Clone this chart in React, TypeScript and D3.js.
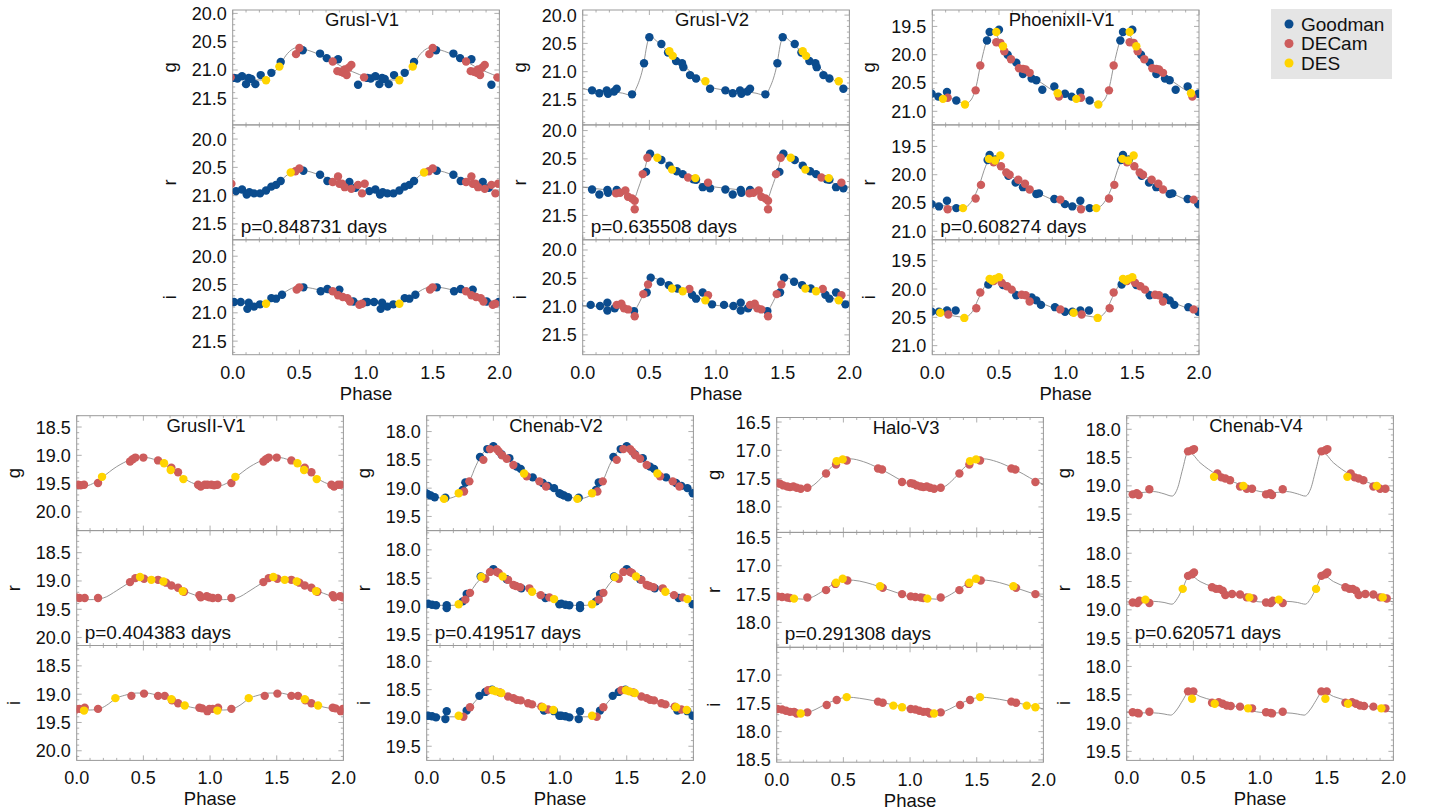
import React from 'react';
import * as d3 from 'd3';

// [phase, mag, survey]  survey: 0 Goodman, 1 DECam, 2 DES
type Pt = [number, number, number];
type Knot = [number, number];

const surveys = ['Goodman', 'DECam', 'DES'];
const surveyColors = ['#0b4c8e', '#cd5c5c', '#ffd400'];
const bands = ['g', 'r', 'i'];

const starNames = ['GrusI-V1', 'GrusI-V2', 'PhoenixII-V1', 'GrusII-V1', 'Chenab-V2', 'Halo-V3', 'Chenab-V4'];
const periods = ['0.848731', '0.635508', '0.608274', '0.404383', '0.419517', '0.291308', '0.620571'];
// magnitude at the top edge of each g / r / i box
const yTops = [
  [19.94, 19.75, 19.71], [19.91, 19.9, 19.82], [19.21, 19.12, 19.13],
  [18.3, 18.11, 18.14], [17.72, 17.66, 17.72], [16.42, 16.41, 16.51], [17.76, 17.6, 17.63],
];
const phaseTicks = [0, 0.5, 1, 1.5, 2];

// ---- GrusI-V1
const grus1v1G: Pt[] = [[0.01,21.14,0],[0.035,21.15,0],[0.07,21.11,0],[0.10,21.25,0],[0.12,21.14,0],[0.14,21.16,0],[0.17,21.25,0],[0.21,21.09,0],[0.25,21.18,2],[0.29,21.05,0],[0.35,20.94,2],[0.36,20.86,0],[0.475,20.72,1],[0.50,20.61,1],[0.525,20.65,0],[0.655,20.71,0],[0.705,20.79,0],[0.75,20.85,1],[0.79,20.81,0],[0.785,21.02,1],[0.81,21.03,1],[0.83,21.05,1],[0.84,20.99,1],[0.855,21.09,1],[0.87,20.96,1],[0.89,20.91,1],[0.94,21.26,0],[0.985,21.13,1]];
const grus1v1R: Pt[] = [[0.99,20.79,1],[0.025,20.92,0],[0.07,20.89,0],[0.105,20.98,0],[0.125,20.94,0],[0.16,20.96,0],[0.205,20.96,0],[0.25,20.91,0],[0.29,20.84,0],[0.325,20.81,0],[0.36,20.74,0],[0.435,20.59,2],[0.47,20.57,1],[0.50,20.52,1],[0.53,20.56,0],[0.655,20.63,0],[0.71,20.74,0],[0.75,20.76,1],[0.79,20.66,1],[0.80,20.79,1],[0.82,20.79,1],[0.84,20.85,1],[0.875,20.76,0],[0.89,20.88,1],[0.92,20.86,0],[0.94,20.81,1],[0.97,20.96,1]];
const grus1v1I: Pt[] = [[0.01,20.81,0],[0.06,20.81,0],[0.11,20.93,0],[0.12,20.82,0],[0.16,20.89,0],[0.205,20.85,0],[0.25,20.84,2],[0.29,20.74,0],[0.325,20.75,0],[0.37,20.68,0],[0.48,20.59,1],[0.5,20.55,1],[0.53,20.55,0],[0.66,20.62,0],[0.71,20.58,0],[0.75,20.62,1],[0.8,20.59,0],[0.79,20.69,1],[0.825,20.72,1],[0.86,20.74,1],[0.88,20.8,1],[0.905,20.8,0],[0.95,20.86,1],[0.97,20.84,1],[0.995,20.81,0]];
const grus1v1GFit: Knot[] = [[0,21.13],[0.1,21.16],[0.24,21.18],[0.3,21.06],[0.35,20.93],[0.4,20.74],[0.45,20.63],[0.49,20.6],[0.55,20.64],[0.7,20.78],[0.85,20.98],[0.95,21.08]];
const grus1v1RFit: Knot[] = [[0,20.93],[0.1,20.95],[0.2,20.96],[0.27,20.9],[0.33,20.8],[0.4,20.65],[0.45,20.57],[0.5,20.54],[0.55,20.56],[0.7,20.68],[0.85,20.82],[0.95,20.9]];
const grus1v1IFit: Knot[] = [[0,20.81],[0.12,20.84],[0.24,20.85],[0.3,20.78],[0.37,20.67],[0.44,20.57],[0.5,20.54],[0.6,20.57],[0.75,20.67],[0.9,20.77]];

// ---- GrusI-V2
const grus1v2G: Pt[] = [[0.07,21.33,0],[0.125,21.38,0],[0.18,21.33,0],[0.19,21.39,0],[0.235,21.35,0],[0.255,21.3,0],[0.37,21.4,0],[0.46,20.85,0],[0.5,20.39,0],[0.59,20.51,0],[0.64,20.66,0],[0.65,20.64,2],[0.675,20.72,2],[0.7,20.81,0],[0.745,20.85,0],[0.755,20.92,0],[0.805,21.06,0],[0.85,21.12,0],[0.92,21.17,2],[0.955,21.3,0]];
const grus1v2R: Pt[] = [[0.07,21.04,0],[0.125,21.13,0],[0.185,21.05,0],[0.19,21.1,0],[0.25,21.11,1],[0.255,21.05,0],[0.28,21.1,1],[0.32,21.06,1],[0.34,21.17,1],[0.37,21.2,1],[0.39,21.24,1],[0.39,21.39,1],[0.45,20.77,1],[0.475,20.73,0],[0.485,20.48,1],[0.505,20.41,0],[0.56,20.48,2],[0.59,20.52,0],[0.65,20.62,0],[0.67,20.69,2],[0.705,20.72,0],[0.75,20.77,0],[0.79,20.83,1],[0.83,20.86,0],[0.845,20.84,2],[0.85,20.87,0],[0.9,21.0,0],[0.94,20.92,1],[0.955,21.02,0]];
const grus1v2I: Pt[] = [[0.06,20.97,0],[0.13,20.99,0],[0.185,20.93,0],[0.185,21.07,0],[0.24,21.03,0],[0.255,20.97,1],[0.29,20.95,1],[0.31,21.03,1],[0.34,21.05,1],[0.385,21.08,0],[0.39,21.17,1],[0.455,20.78,1],[0.48,20.75,0],[0.49,20.61,1],[0.51,20.49,0],[0.585,20.56,0],[0.645,20.62,0],[0.67,20.68,2],[0.71,20.68,0],[0.75,20.73,2],[0.8,20.69,1],[0.82,20.79,0],[0.85,20.86,0],[0.9,20.75,0],[0.92,20.89,2],[0.94,20.8,1],[0.97,20.96,0]];
const grus1v2GFit: Knot[] = [[0,21.3],[0.15,21.34],[0.3,21.38],[0.37,21.42],[0.4,21.3],[0.45,20.95],[0.49,20.45],[0.51,20.38],[0.55,20.45],[0.65,20.67],[0.75,20.88],[0.85,21.08],[0.95,21.26]];
const grus1v2RFit: Knot[] = [[0,21.0],[0.15,21.04],[0.3,21.12],[0.38,21.22],[0.42,21.0],[0.46,20.72],[0.5,20.43],[0.52,20.42],[0.6,20.52],[0.7,20.69],[0.8,20.82],[0.9,20.95]];
const grus1v2IFit: Knot[] = [[0,20.98],[0.15,21.0],[0.3,21.04],[0.38,21.09],[0.42,20.95],[0.46,20.75],[0.5,20.52],[0.52,20.49],[0.6,20.56],[0.7,20.66],[0.8,20.76],[0.9,20.88],[0.95,20.94]];

// ---- PhoenixII-V1
const phx2v1G: Pt[] = [[0.995,20.69,0],[0.045,20.74,0],[0.08,20.78,2],[0.11,20.66,0],[0.115,20.76,1],[0.18,20.81,0],[0.245,20.88,2],[0.325,20.63,1],[0.36,20.19,1],[0.41,19.75,0],[0.43,19.6,0],[0.48,19.6,2],[0.5,19.56,0],[0.48,19.78,1],[0.51,19.79,1],[0.53,19.85,2],[0.54,19.94,1],[0.565,20.0,0],[0.59,20.08,1],[0.63,20.14,0],[0.65,20.24,1],[0.68,20.34,0],[0.68,20.25,1],[0.7,20.26,1],[0.73,20.32,1],[0.745,20.42,0],[0.78,20.45,0],[0.825,20.62,0],[0.915,20.56,0],[0.94,20.68,2],[0.95,20.74,1]];
const phx2v1R: Pt[] = [[0.995,20.52,0],[0.05,20.56,0],[0.11,20.46,0],[0.115,20.61,1],[0.18,20.59,0],[0.23,20.59,2],[0.325,20.42,1],[0.365,20.18,1],[0.415,19.74,0],[0.43,19.65,0],[0.425,19.72,2],[0.46,19.78,1],[0.47,19.75,2],[0.475,19.73,0],[0.51,19.66,2],[0.515,19.85,1],[0.555,19.96,1],[0.57,20.02,0],[0.58,20.0,1],[0.625,20.14,0],[0.645,20.09,1],[0.68,20.22,0],[0.695,20.16,1],[0.73,20.26,1],[0.78,20.34,0],[0.8,20.33,0],[0.915,20.43,0],[0.96,20.44,1]];
const phx2v1I: Pt[] = [[0.995,20.4,0],[0.05,20.4,0],[0.06,20.42,2],[0.11,20.38,0],[0.12,20.45,1],[0.175,20.38,0],[0.24,20.51,2],[0.33,20.34,1],[0.36,20.06,1],[0.42,19.92,0],[0.43,19.82,2],[0.45,19.85,2],[0.47,19.82,2],[0.5,19.79,2],[0.46,19.86,1],[0.52,19.89,1],[0.53,19.93,0],[0.56,19.95,1],[0.595,20.01,1],[0.63,20.11,0],[0.67,20.1,1],[0.7,20.11,1],[0.73,20.22,1],[0.745,20.15,0],[0.78,20.2,0],[0.815,20.28,0],[0.92,20.32,0],[0.96,20.36,1]];
const phx2v1GFit: Knot[] = [[0,20.71],[0.1,20.76],[0.17,20.79],[0.245,20.87],[0.29,20.8],[0.33,20.55],[0.36,20.2],[0.41,19.74],[0.445,19.59],[0.47,19.62],[0.52,19.82],[0.595,20.09],[0.67,20.26],[0.82,20.5],[0.92,20.65]];
const phx2v1RFit: Knot[] = [[0,20.53],[0.1,20.55],[0.2,20.58],[0.25,20.57],[0.3,20.45],[0.35,20.2],[0.4,19.85],[0.435,19.7],[0.46,19.72],[0.52,19.85],[0.6,20.03],[0.7,20.2],[0.8,20.33],[0.9,20.44],[0.95,20.49]];
const phx2v1IFit: Knot[] = [[0,20.41],[0.1,20.45],[0.2,20.49],[0.24,20.5],[0.3,20.4],[0.35,20.15],[0.4,19.93],[0.44,19.83],[0.48,19.84],[0.55,19.93],[0.65,20.06],[0.75,20.18],[0.85,20.28],[0.95,20.37]];

// ---- GrusII-V1
const grus2v1G: Pt[] = [[0.01,19.52,1],[0.03,19.53,1],[0.055,19.52,1],[0.16,19.49,1],[0.19,19.38,2],[0.4,19.11,1],[0.42,19.07,1],[0.44,19.04,1],[0.5,19.04,1],[0.61,19.09,1],[0.655,19.14,2],[0.705,19.26,2],[0.71,19.22,1],[0.76,19.3,1],[0.8,19.42,2],[0.91,19.52,1],[0.93,19.55,1],[0.96,19.52,1],[0.98,19.52,1]];
const grus2v1R: Pt[] = [[0.02,19.3,1],[0.06,19.3,1],[0.16,19.3,1],[0.4,19.02,1],[0.44,18.95,1],[0.475,18.93,2],[0.505,18.96,1],[0.56,18.98,2],[0.61,18.98,1],[0.65,19.01,2],[0.67,19.03,1],[0.71,19.08,1],[0.76,19.12,1],[0.795,19.18,2],[0.805,19.19,1],[0.92,19.25,1],[0.93,19.29,1],[0.975,19.27,1],[0.995,19.29,1]];
const grus2v1I: Pt[] = [[0.02,19.26,1],[0.06,19.24,1],[0.055,19.29,2],[0.16,19.26,1],[0.29,19.07,2],[0.41,19.03,1],[0.505,18.99,1],[0.61,19.03,1],[0.66,19.03,1],[0.715,19.11,1],[0.71,19.09,2],[0.76,19.16,1],[0.81,19.2,2],[0.92,19.24,1],[0.94,19.25,1],[0.98,19.3,1],[0.995,19.26,1]];
const grus2v1GFit: Knot[] = [[0,19.54],[0.05,19.55],[0.12,19.5],[0.19,19.39],[0.3,19.2],[0.4,19.08],[0.48,19.03],[0.55,19.05],[0.65,19.15],[0.72,19.25],[0.8,19.4],[0.88,19.5],[0.95,19.54]];
const grus2v1RFit: Knot[] = [[0,19.32],[0.1,19.33],[0.2,19.3],[0.3,19.17],[0.38,19.05],[0.45,18.96],[0.5,18.94],[0.6,18.98],[0.7,19.06],[0.8,19.17],[0.9,19.26],[0.95,19.3]];
const grus2v1IFit: Knot[] = [[0,19.27],[0.1,19.28],[0.18,19.25],[0.24,19.17],[0.29,19.08],[0.36,19.02],[0.45,18.98],[0.52,18.98],[0.62,19.03],[0.72,19.1],[0.81,19.2],[0.9,19.25]];

// ---- Chenab-V2
const chen2G: Pt[] = [[0.01,19.11,0],[0.03,19.13,0],[0.06,19.16,0],[0.14,19.17,0],[0.13,19.19,2],[0.24,19.09,2],[0.27,19.03,0],[0.28,19.06,1],[0.29,18.9,0],[0.32,18.88,1],[0.4,18.45,0],[0.425,18.5,1],[0.455,18.31,0],[0.475,18.31,1],[0.5,18.26,0],[0.525,18.31,1],[0.54,18.35,1],[0.56,18.4,0],[0.565,18.42,1],[0.6,18.48,1],[0.62,18.47,0],[0.65,18.59,1],[0.675,18.62,0],[0.705,18.66,0],[0.73,18.74,2],[0.75,18.79,1],[0.795,18.81,0],[0.845,18.88,1],[0.87,18.91,0],[0.895,18.97,1],[0.91,18.96,0],[0.955,19.0,0],[0.995,19.09,0]];
const chen2R: Pt[] = [[0.01,18.95,0],[0.04,18.97,0],[0.07,18.98,0],[0.15,18.98,0],[0.15,19.03,0],[0.24,18.96,2],[0.27,18.91,0],[0.29,18.88,1],[0.3,18.78,0],[0.325,18.76,1],[0.405,18.47,0],[0.41,18.48,2],[0.44,18.51,1],[0.475,18.39,1],[0.5,18.34,0],[0.525,18.39,1],[0.54,18.41,1],[0.57,18.47,2],[0.6,18.52,0],[0.61,18.53,1],[0.65,18.62,1],[0.67,18.64,1],[0.7,18.66,1],[0.71,18.68,0],[0.77,18.68,1],[0.79,18.74,2],[0.855,18.8,1],[0.89,18.85,0],[0.92,18.84,1],[0.955,18.87,2],[0.995,18.96,0]];
const chen2I: Pt[] = [[0.01,18.96,0],[0.04,18.97,0],[0.07,18.99,0],[0.14,19.02,0],[0.15,18.88,0],[0.24,18.96,2],[0.275,18.98,1],[0.3,18.87,0],[0.325,18.81,1],[0.395,18.61,0],[0.44,18.54,0],[0.46,18.51,1],[0.49,18.5,0],[0.495,18.51,2],[0.52,18.53,2],[0.55,18.55,1],[0.56,18.56,2],[0.61,18.62,1],[0.65,18.65,1],[0.675,18.68,1],[0.705,18.69,1],[0.76,18.74,1],[0.79,18.76,1],[0.86,18.8,1],[0.88,18.87,0],[0.87,18.81,2],[0.91,18.85,1],[0.955,18.88,0],[0.95,18.86,2],[0.995,18.96,0]];
const chen2GFit: Knot[] = [[0,19.1],[0.07,19.15],[0.13,19.19],[0.2,19.16],[0.26,19.07],[0.32,18.88],[0.37,18.6],[0.41,18.42],[0.46,18.3],[0.5,18.28],[0.55,18.35],[0.65,18.55],[0.75,18.77],[0.85,18.9],[0.92,18.98],[0.97,19.06]];
const chen2RFit: Knot[] = [[0,18.96],[0.1,18.98],[0.2,18.98],[0.26,18.92],[0.32,18.77],[0.37,18.6],[0.42,18.48],[0.47,18.4],[0.51,18.38],[0.56,18.44],[0.65,18.58],[0.75,18.7],[0.85,18.8],[0.95,18.9]];
const chen2IFit: Knot[] = [[0,18.97],[0.1,18.98],[0.22,18.98],[0.28,18.92],[0.33,18.8],[0.39,18.64],[0.44,18.55],[0.49,18.5],[0.53,18.51],[0.62,18.6],[0.72,18.7],[0.82,18.79],[0.92,18.88],[0.97,18.94]];

// ---- Halo-V3
const halo3G: Pt[] = [[0.005,17.58,1],[0.025,17.59,1],[0.05,17.62,1],[0.08,17.64,1],[0.1,17.65,1],[0.125,17.64,1],[0.15,17.66,1],[0.18,17.68,1],[0.23,17.66,1],[0.37,17.41,1],[0.445,17.25,1],[0.45,17.19,2],[0.495,17.16,2],[0.525,17.18,1],[0.76,17.32,1],[0.79,17.34,1],[0.94,17.56,1]];
const halo3R: Pt[] = [[0.005,17.54,1],[0.04,17.55,1],[0.08,17.56,1],[0.1,17.57,1],[0.13,17.58,2],[0.23,17.56,1],[0.37,17.43,1],[0.44,17.32,1],[0.445,17.3,2],[0.495,17.23,2],[0.53,17.26,1],[0.775,17.36,2],[0.795,17.39,1],[0.94,17.5,1]];
const halo3I: Pt[] = [[0.005,17.6,1],[0.04,17.61,1],[0.07,17.63,1],[0.1,17.65,1],[0.13,17.65,1],[0.15,17.68,1],[0.18,17.68,2],[0.23,17.66,1],[0.375,17.53,1],[0.45,17.44,1],[0.525,17.39,2],[0.76,17.47,1],[0.795,17.49,1],[0.875,17.54,2],[0.94,17.57,2]];
const halo3GFit: Knot[] = [[0,17.6],[0.1,17.65],[0.2,17.68],[0.26,17.64],[0.33,17.5],[0.4,17.32],[0.46,17.21],[0.55,17.15],[0.65,17.2],[0.76,17.31],[0.85,17.42],[0.94,17.54]];
const halo3RFit: Knot[] = [[0,17.55],[0.1,17.57],[0.2,17.59],[0.26,17.56],[0.33,17.47],[0.4,17.36],[0.47,17.27],[0.53,17.25],[0.62,17.27],[0.72,17.33],[0.82,17.41],[0.92,17.49],[0.97,17.53]];
const halo3IFit: Knot[] = [[0,17.6],[0.1,17.64],[0.2,17.67],[0.26,17.64],[0.33,17.56],[0.4,17.48],[0.47,17.42],[0.53,17.39],[0.62,17.41],[0.72,17.45],[0.82,17.5],[0.92,17.55],[0.97,17.58]];

// ---- Chenab-V4
const chen4G: Pt[] = [[0.045,19.15,1],[0.075,19.13,1],[0.09,19.16,1],[0.17,19.06,1],[0.46,18.39,1],[0.49,18.37,1],[0.505,18.35,1],[0.68,18.78,1],[0.655,18.84,2],[0.71,18.85,1],[0.74,18.87,1],[0.775,18.9,1],[0.85,19.01,1],[0.875,19.0,2],[0.9,19.05,1],[0.94,19.05,1]];
const chen4R: Pt[] = [[0.045,18.87,1],[0.08,18.88,1],[0.095,18.84,1],[0.14,18.82,2],[0.17,18.88,1],[0.42,18.63,2],[0.46,18.4,1],[0.49,18.37,1],[0.505,18.34,1],[0.64,18.6,1],[0.67,18.63,1],[0.695,18.63,1],[0.72,18.66,1],[0.74,18.74,1],[0.79,18.72,1],[0.85,18.73,1],[0.9,18.78,1],[0.92,18.78,2],[0.95,18.8,1]];
const chen4I: Pt[] = [[0.045,18.81,1],[0.08,18.82,1],[0.09,18.83,1],[0.17,18.8,1],[0.46,18.44,1],[0.5,18.44,1],[0.49,18.57,2],[0.64,18.64,1],[0.66,18.66,2],[0.69,18.63,1],[0.72,18.66,1],[0.75,18.69,1],[0.78,18.7,1],[0.85,18.71,1],[0.91,18.74,2],[0.94,18.74,1]];
const chen4GFit: Knot[] = [[0,19.1],[0.1,19.12],[0.2,19.1],[0.28,19.14],[0.34,19.18],[0.38,19.05],[0.42,18.7],[0.455,18.42],[0.47,18.41],[0.55,18.59],[0.675,18.8],[0.8,18.93],[0.9,19.02]];
const chen4RFit: Knot[] = [[0,18.86],[0.1,18.86],[0.2,18.85],[0.28,18.87],[0.34,18.9],[0.38,18.8],[0.42,18.62],[0.46,18.42],[0.48,18.4],[0.55,18.5],[0.65,18.6],[0.78,18.7],[0.9,18.8]];
const chen4IFit: Knot[] = [[0,18.81],[0.1,18.82],[0.2,18.82],[0.28,18.84],[0.33,18.86],[0.38,18.75],[0.42,18.6],[0.46,18.46],[0.48,18.45],[0.55,18.53],[0.65,18.6],[0.78,18.68],[0.9,18.76]];

const points: Pt[][][] = [
  [grus1v1G, grus1v1R, grus1v1I], [grus1v2G, grus1v2R, grus1v2I], [phx2v1G, phx2v1R, phx2v1I],
  [grus2v1G, grus2v1R, grus2v1I], [chen2G, chen2R, chen2I], [halo3G, halo3R, halo3I], [chen4G, chen4R, chen4I],
];
const fits: Knot[][][] = [
  [grus1v1GFit, grus1v1RFit, grus1v1IFit], [grus1v2GFit, grus1v2RFit, grus1v2IFit], [phx2v1GFit, phx2v1RFit, phx2v1IFit],
  [grus2v1GFit, grus2v1RFit, grus2v1IFit], [chen2GFit, chen2RFit, chen2IFit], [halo3GFit, halo3RFit, halo3IFit], [chen4GFit, chen4RFit, chen4IFit],
];

// layout
const PANEL_W = 266.7;
const SUB_H = 114.9;
const SPAN = 2.03;
const origins = [
  { x: 232.7, y: 10 }, { x: 582.7, y: 10 }, { x: 932.3, y: 10 },
  { x: 76.7, y: 415.7 }, { x: 426.7, y: 415.7 }, { x: 776.7, y: 417.5 }, { x: 1126.7, y: 415.7 },
];
const FONT = "'Liberation Sans', Arial, Helvetica, sans-serif";
const AXIS = '#9a9a9a';

const shifts = [-1, 0, 1];

function SubPanel({ star, band }: { star: number; band: number }) {
  const o = origins[star];
  const x0 = o.x, x1 = o.x + PANEL_W;
  const y0 = o.y + band * SUB_H, y1 = y0 + SUB_H;
  const top = yTops[star][band];
  const x = d3.scaleLinear().domain([0, 2]).range([x0, x1]);
  const y = d3.scaleLinear().domain([top, top + SPAN]).range([y0, y1]);
  const clipId = `clip-${star}-${band}`;

  const majorY = d3.range(Math.ceil((top + 0.02) * 2), Math.floor((top + SPAN - 0.02) * 2) + 1).map(v => v / 2);
  const minorY = d3.range(Math.ceil(top * 10), Math.floor((top + SPAN) * 10) + 1).map(v => v / 10);
  const minorX = d3.range(0, 21).map(v => v / 10);

  const knots = fits[star][band];
  const ext: Knot[] = [];
  shifts.forEach(s => knots.forEach(k => ext.push([k[0] + s, k[1]])));
  ext.push([2, knots[0][1]]);
  ext.sort((a, b) => a[0] - b[0]);
  const line = d3.line<Knot>().x(d => x(d[0])).y(d => y(d[1])).curve(d3.curveMonotoneX);

  const pts = points[star][band];
  const drawn: { cx: number; cy: number; s: number }[] = [];
  [0, 1, 2].forEach(sv => {
    pts.filter(p => p[2] === sv).forEach(p => {
      shifts.forEach(s => {
        const ph = p[0] + s;
        if (ph > -0.05 && ph < 2.05) drawn.push({ cx: x(ph), cy: y(p[1]), s: sv });
      });
    });
  });

  return (
    <g>
      <clipPath id={clipId}><rect x={x0} y={y0} width={PANEL_W} height={SUB_H} /></clipPath>
      {minorX.map(v => {
        const len = Math.abs(v * 2 - Math.round(v * 2)) < 1e-6 ? 5 : 2.5;
        return (
          <g key={'xt' + v}>
            <line x1={x(v)} x2={x(v)} y1={y1} y2={y1 - len} stroke={AXIS} strokeWidth={0.8} />
            <line x1={x(v)} x2={x(v)} y1={y0} y2={y0 + len} stroke={AXIS} strokeWidth={0.8} />
          </g>
        );
      })}
      {minorY.map(v => {
        const len = Math.abs(v * 2 - Math.round(v * 2)) < 1e-6 ? 5 : 2.5;
        return (
          <g key={'yt' + v}>
            <line x1={x0} x2={x0 + len} y1={y(v)} y2={y(v)} stroke={AXIS} strokeWidth={0.8} />
            <line x1={x1} x2={x1 - len} y1={y(v)} y2={y(v)} stroke={AXIS} strokeWidth={0.8} />
          </g>
        );
      })}
      <rect x={x0} y={y0} width={PANEL_W} height={SUB_H} fill="none" stroke={AXIS} strokeWidth={1} />
      <g clipPath={`url(#${clipId})`}>
        <path d={line(ext) || ''} fill="none" stroke="#8a8a8a" strokeWidth={0.9} />
        {drawn.map((d, i) => (
          <circle key={i} cx={d.cx} cy={d.cy} r={4.2} fill={surveyColors[d.s]} />
        ))}
      </g>
      {majorY.map(v => (
        <text key={'yl' + v} x={x0 - 6} y={y(v)} dy="0.36em" textAnchor="end" fontSize={18} fontFamily={FONT} fill="#111">
          {v.toFixed(1)}
        </text>
      ))}
      <text transform={`translate(${x0 - 57},${(y0 + y1) / 2}) rotate(-90)`} textAnchor="middle" fontSize={18.5} fontFamily={FONT} fill="#111">
        {bands[band]}
      </text>
      {band === 0 && (
        <text x={(x0 + x1) / 2 - 4} y={y0 + 16} textAnchor="middle" fontSize={18.5} fontFamily={FONT} fill="#111">
          {starNames[star]}
        </text>
      )}
      {band === 1 && (
        <text x={x0 + 8} y={y1 - 7} fontSize={19} fontFamily={FONT} fill="#111">
          {`p=${periods[star]} days`}
        </text>
      )}
      {band === 2 && (
        <g>
          {phaseTicks.map(v => (
            <text key={'xl' + v} x={x(v)} y={y1 + 24} textAnchor="middle" fontSize={18} fontFamily={FONT} fill="#111">
              {v.toFixed(1)}
            </text>
          ))}
          <text x={(x0 + x1) / 2} y={y1 + 45} textAnchor="middle" fontSize={18.5} fontFamily={FONT} fill="#111">Phase</text>
        </g>
      )}
    </g>
  );
}

function Legend() {
  const lx = 1271, ly = 9;
  return (
    <g>
      <rect x={lx} y={ly} width={121} height={70} fill="#e5e5e5" />
      {surveys.map((s, i) => (
        <g key={s}>
          <circle cx={lx + 18} cy={ly + 15 + i * 19.5} r={4.5} fill={surveyColors[i]} />
          <text x={lx + 30} y={ly + 15 + i * 19.5} dy="0.36em" fontSize={19} fontFamily={FONT} fill="#111">{s}</text>
        </g>
      ))}
    </g>
  );
}

export default function App() {
  return (
    <svg width={1437} height={811} style={{ position: 'absolute', left: 0, top: 0, background: '#fff' }}>
      <rect width={1437} height={811} fill="#fff" />
      {starNames.map((_, s) => (
        <g key={s}>
          {bands.map((_, b) => <SubPanel key={b} star={s} band={b} />)}
        </g>
      ))}
      <Legend />
    </svg>
  );
}
